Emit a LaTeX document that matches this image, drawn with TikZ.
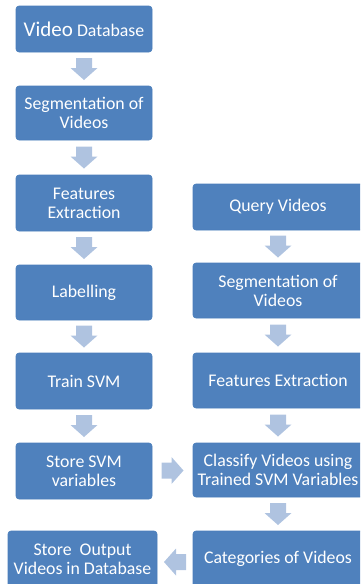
\documentclass[tikz,border=0pt]{standalone}
\usepackage{fontspec}
\setmainfont{Carlito}
\usetikzlibrary{calc}
\definecolor{boxblue}{HTML}{4F81BD}
\definecolor{boxedge}{HTML}{4A7EBB}
\definecolor{arrowblue}{HTML}{AFC3E0}
\tikzset{
  flowbox/.style={draw=boxedge, line width=0.6pt, fill=boxblue, rounded corners=3pt,
    text=white, align=center, inner sep=0pt,
    font=\fontsize{17.8}{19}\selectfont},
  blockarrow/.pic={\fill[arrowblue] (-11,8) -- (-1,8) -- (-1,13.5) -- (11,0) -- (-1,-13.5) -- (-1,-8) -- (-11,-8) -- cycle;}
}
\begin{document}
\begin{tikzpicture}[x=1pt,y=1pt]
\useasboundingbox (0,0) rectangle (360,-584);
\clip (0,0) rectangle (360,-584);
% left column
\node[flowbox, minimum width=136pt, minimum height=46pt] (vd) at (84,-29) {{\fontsize{21}{19}\selectfont Video} Database};
\node[flowbox, minimum width=136pt, minimum height=54pt] (seg1) at (84,-113) {Segmentation of\\Videos};
\node[flowbox, minimum width=136pt, minimum height=56pt] (fe1) at (84,-203) {Features\\Extraction};
\node[flowbox, minimum width=136pt, minimum height=55pt] (lab) at (84,-292.5) {Labelling};
\node[flowbox, minimum width=136pt, minimum height=56pt] (train) at (84,-381) {Train SVM};
\node[flowbox, minimum width=136pt, minimum height=56pt] (store) at (84,-471) {Store SVM\\variables};
\node[flowbox, minimum width=149pt, minimum height=56pt] (out) at (82.5,-559) {Store\ \ Output\\Videos in Database};
% right column
\node[flowbox, minimum width=170pt, minimum height=46pt] (qv) at (278,-207) {Query Videos};
\node[flowbox, minimum width=170pt, minimum height=55pt] (seg2) at (278,-290.5) {Segmentation of\\Videos};
\node[flowbox, minimum width=170pt, minimum height=55pt] (fe2) at (278,-380.5) {Features Extraction};
\node[flowbox, minimum width=170pt, minimum height=54pt] (cls) at (278,-470) {Classify Videos using\\Trained SVM Variables};
\node[flowbox, minimum width=170pt, minimum height=56pt] (cat) at (278,-559) {Categories of Videos};
% block arrows
\pic[rotate=-90] at ($(vd.south)!0.5!(seg1.north)$) {blockarrow};
\pic[rotate=-90] at ($(seg1.south)!0.5!(fe1.north)$) {blockarrow};
\pic[rotate=-90] at ($(fe1.south)!0.5!(lab.north)$) {blockarrow};
\pic[rotate=-90] at ($(lab.south)!0.5!(train.north)$) {blockarrow};
\pic[rotate=-90] at ($(train.south)!0.5!(store.north)$) {blockarrow};
\pic[rotate=-90] at ($(qv.south)!0.5!(seg2.north)$) {blockarrow};
\pic[rotate=-90] at ($(seg2.south)!0.5!(fe2.north)$) {blockarrow};
\pic[rotate=-90] at ($(fe2.south)!0.5!(cls.north)$) {blockarrow};
\pic[rotate=-90] at ($(cls.south)!0.5!(cat.north)$) {blockarrow};
\pic at ($(store.east)!0.5!(cls.west)$) {blockarrow};
\pic[rotate=180] at ($(cat.west)!0.5!(out.east)+(0,-3)$) {blockarrow};
\end{tikzpicture}
\end{document}
